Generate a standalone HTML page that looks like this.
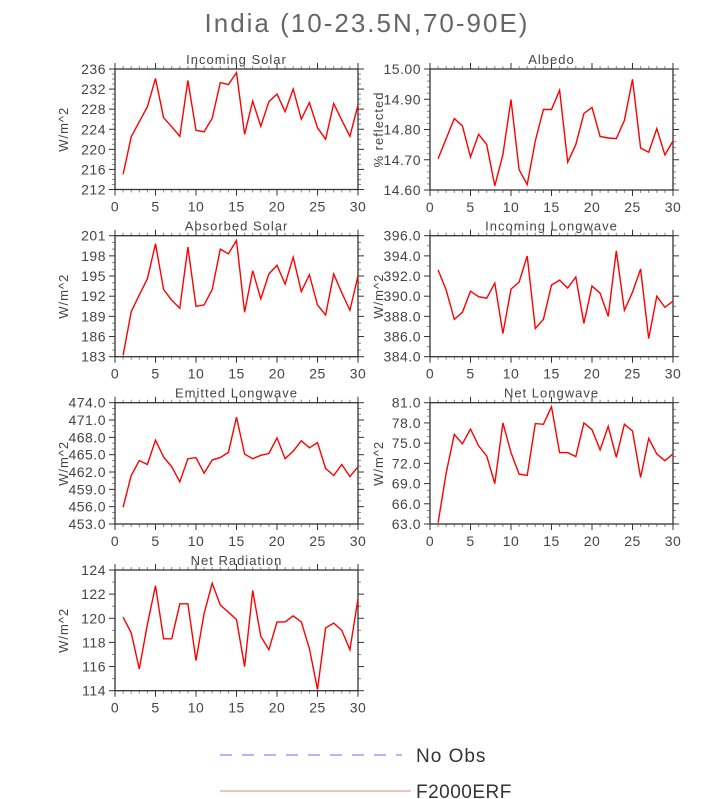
<!DOCTYPE html>
<html><head><meta charset="utf-8"><style>
body{margin:0;background:#fff;}
svg{display:block;font-family:"Liberation Sans",sans-serif;}
</style></head><body>
<svg id="chart" width="722" height="799" viewBox="0 0 722 799" xmlns="http://www.w3.org/2000/svg">
<text x="367" y="32" text-anchor="middle" font-size="26" letter-spacing="2" fill="#666">India (10-23.5N,70-90E)</text>
<g id="panels"></g>
<g>
<line x1="220" y1="755" x2="402" y2="755" stroke="#b4b4ff" stroke-width="2" stroke-dasharray="12,10"/>
<text x="416" y="762" font-size="19" letter-spacing="1" fill="#333">No Obs</text>
<line x1="220" y1="791" x2="411" y2="791" stroke="#e88080" stroke-width="1"/>
<text x="416" y="798" font-size="19" letter-spacing="0.5" fill="#333">F2000ERF</text>
</g>
</svg>
<script>
const days = [1,2,3,4,5,6,7,8,9,10,11,12,13,14,15,16,17,18,19,20,21,22,23,24,25,26,27,28,29,30];
const xTicks = [0,5,10,15,20,25,30];
const incomingSolar = [215,222.5,225.5,228.5,234.1,226.3,224.5,222.6,233.7,223.8,223.5,226.2,233.3,232.9,235.3,223,229.6,224.6,229.5,231,227.5,232,226,229.3,224.3,222,229.1,225.8,222.6,228.8];
const albedo = [14.703,14.77,14.836,14.812,14.709,14.784,14.75,14.614,14.717,14.899,14.667,14.618,14.762,14.866,14.866,14.93,14.692,14.75,14.853,14.873,14.777,14.772,14.77,14.83,14.966,14.739,14.725,14.803,14.716,14.762];
const absorbedSolar = [183.2,189.7,192.2,194.6,199.8,193.0,191.4,190.2,199.3,190.5,190.7,193.0,199.0,198.3,200.3,189.6,195.8,191.6,195.3,196.6,193.8,197.8,192.7,195.2,190.7,189.2,195.3,192.5,189.9,195.0];
const incomingLW = [392.6,390.6,387.7,388.4,390.5,389.95,389.8,391.3,386.3,390.7,391.4,394.0,386.8,387.7,391.1,391.6,390.8,391.9,387.3,391.0,390.3,388.0,394.5,388.6,390.4,392.7,385.8,390.0,388.9,389.5];
const emittedLW = [455.9,461.4,464.0,463.3,467.5,464.6,462.9,460.3,464.3,464.5,461.8,464.1,464.5,465.4,471.5,465.1,464.3,464.9,465.2,467.9,464.3,465.6,467.4,466.2,467.1,462.6,461.4,463.3,461.2,462.9];
const netLW = [63.2,70.6,76.3,74.9,77.1,74.6,73.1,69.0,78.0,73.6,70.4,70.2,77.9,77.8,80.4,73.6,73.6,73.0,78.0,77.0,74.0,77.5,72.9,77.8,76.8,69.9,75.7,73.4,72.4,73.4];
const netRad = [120.1,118.8,115.8,119.5,122.7,118.3,118.3,121.2,121.2,116.5,120.4,122.9,121.1,120.5,119.9,116.0,122.3,118.5,117.4,119.7,119.7,120.2,119.7,117.5,114.1,119.2,119.6,119.0,117.4,121.6];
const ticksIS = [212,216,220,224,228,232,236];
const ticksAlb = [14.6,14.7,14.8,14.9,15.0];
const ticksAS = [183,186,189,192,195,198,201];
const ticksILW = [384,386,388,390,392,394,396];
const ticksELW = [453,456,459,462,465,468,471,474];
const ticksNLW = [63,66,69,72,75,78,81];
const ticksNR = [114,116,118,120,122,124];

const NS='http://www.w3.org/2000/svg';
const root=document.getElementById('panels');
function mk(tag,attrs,parent){const e=document.createElementNS(NS,tag);for(const k in attrs)e.setAttribute(k,attrs[k]);parent.appendChild(e);return e;}

function panel(key,title,ytitle,vals,yt,dec,minorN,x0,x1,y0,y1){
  const g=mk('g',{},root);
  
  
  const ymin=yt[0],ymax=yt[yt.length-1];
  const sx=v=>x0+(v-0)/30*(x1-x0);
  const sy=v=>y1-(v-ymin)/(ymax-ymin)*(y1-y0);
  const col='#333';
  for(let v=0;v<=30;v++){ if(v%5===0)continue;
    mk('line',{x1:sx(v),x2:sx(v),y1:y1,y2:y1+3,stroke:'#888'},g);
    mk('line',{x1:sx(v),x2:sx(v),y1:y0,y2:y0-3,stroke:'#888'},g);}
  for(let i=0;i<yt.length-1;i++){for(let j=1;j<=minorN;j++){const v=yt[i]+(yt[i+1]-yt[i])*j/(minorN+1);
    mk('line',{x1:x0-3,x2:x0,y1:sy(v),y2:sy(v),stroke:'#888'},g);
    mk('line',{x1:x1,x2:x1+3,y1:sy(v),y2:sy(v),stroke:'#888'},g);}}
  xTicks.forEach(v=>{
    mk('line',{x1:sx(v),x2:sx(v),y1:y1,y2:y1+6,stroke:col},g);
    mk('line',{x1:sx(v),x2:sx(v),y1:y0,y2:y0-6,stroke:col},g);
    const t=mk('text',{x:sx(v),y:y1+22,'text-anchor':'middle','font-size':14,'letter-spacing':0.5,fill:'#444'},g);
    
    
    t.textContent=v;});
  yt.forEach(v=>{
    mk('line',{x1:x0-6,x2:x0,y1:sy(v),y2:sy(v),stroke:col},g);
    mk('line',{x1:x1,x2:x1+6,y1:sy(v),y2:sy(v),stroke:col},g);
    const t=mk('text',{x:x0-9,y:sy(v)+5,'text-anchor':'end','font-size':14,'letter-spacing':0.5,fill:'#444'},g);
    
    
    t.textContent=v.toFixed(dec);});
  const frame=mk('rect',{x:x0,y:y0,width:x1-x0,height:y1-y0,fill:'none',stroke:col,'stroke-width':1.3},g);
  
  
  const tt=mk('text',{x:(x0+x1)/2,y:y0-5,'text-anchor':'middle','font-size':13,'letter-spacing':1,fill:'#444'},g);
  
  
  tt.textContent=title;
  const yx=x0-47,ym=(y0+y1)/2;
  const yl=mk('text',{x:yx,y:ym,'text-anchor':'middle','font-size':13,'letter-spacing':1,fill:'#444',transform:`rotate(-90 ${yx} ${ym})`},g);
  
  
  yl.textContent=ytitle;
  const pts=vals.map((v,i)=>sx(days[i]).toFixed(1)+','+sy(v).toFixed(1)).join(' ');
  const pl=mk('polyline',{points:pts,fill:'none',stroke:'#f00','stroke-width':1.4},g);
  
  
}
const L0=115,L1=358,R0=430,R1=673;
panel('incoming-solar','Incoming Solar','W/m^2',incomingSolar,ticksIS,0,3,L0,L1,69,189.5);
panel('albedo','Albedo','% reflected',albedo,ticksAlb,2,4,R0,R1,69,190);
panel('absorbed-solar','Absorbed Solar','W/m^2',absorbedSolar,ticksAS,0,2,L0,L1,235.7,356.7);
panel('incoming-longwave','Incoming Longwave','W/m^2',incomingLW,ticksILW,1,1,R0,R1,235.7,356.7);
panel('emitted-longwave','Emitted Longwave','W/m^2',emittedLW,ticksELW,1,2,L0,L1,402.7,524);
panel('net-longwave','Net Longwave','W/m^2',netLW,ticksNLW,1,2,R0,R1,402.7,524);
panel('net-radiation','Net Radiation','W/m^2',netRad,ticksNR,0,1,L0,L1,570,690.7);
</script>
</body></html>
